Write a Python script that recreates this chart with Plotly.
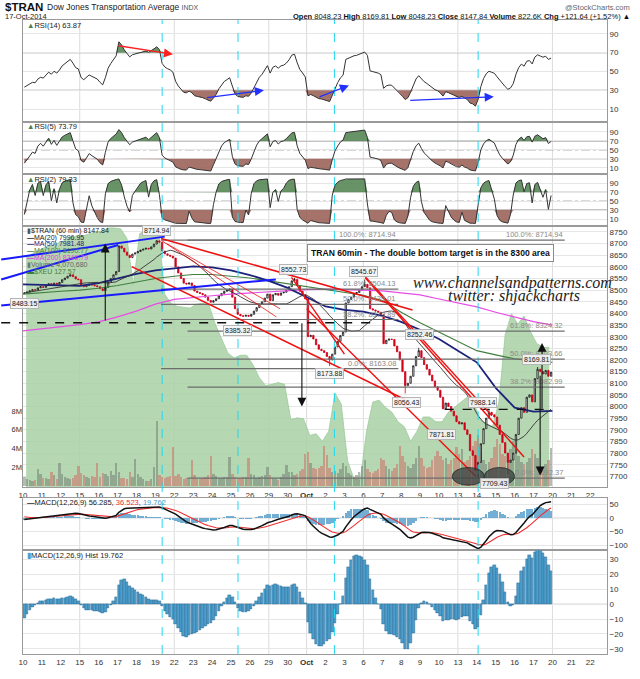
import numpy as np
import pandas as pd
import plotly.graph_objects as go

# ---------------- DATA ----------------
day_labels = ["10", "11", "12", "15", "16", "17", "18", "19", "22", "23", "24", "25", "26", "29", "30",
              "<b>Oct</b>", "2", "3", "6", "7", "8", "9", "10", "13", "14", "15", "16", "17", "20", "21", "22"]
week_starts = [3, 8, 13, 15, 18, 23, 28]
highlight_days = [7.36, 11.37, 16.47, 24.07]

first_open = 8486
closes_by_day = [
    [8488, 8492, 8497, 8502, 8500, 8510, 8515],  # Sep 10
    [8512, 8520, 8528, 8522, 8530, 8525, 8533],  # Sep 11
    [8545, 8552, 8560, 8566, 8558, 8548, 8545],  # Sep 12
    [8522, 8515, 8520, 8526, 8522, 8519, 8515],  # Sep 15
    [8506, 8498, 8512, 8535, 8550, 8566, 8580],  # Sep 16
    [8690, 8680, 8664, 8650, 8640, 8655, 8660],  # Sep 17
    [8666, 8672, 8676, 8680, 8677, 8686, 8698],  # Sep 18
    [8712, 8706, 8668, 8656, 8650, 8646, 8638],  # Sep 19
    [8600, 8574, 8550, 8530, 8526, 8531, 8520],  # Sep 22
    [8496, 8490, 8486, 8480, 8470, 8456, 8448],  # Sep 23
    [8455, 8463, 8476, 8486, 8495, 8500, 8505],  # Sep 24
    [8470, 8420, 8396, 8390, 8388, 8392, 8388],  # Sep 25
    [8396, 8410, 8425, 8440, 8450, 8466, 8483],  # Sep 26
    [8455, 8480, 8486, 8478, 8488, 8491, 8500],  # Sep 29
    [8515, 8540, 8546, 8520, 8495, 8480, 8462],  # Sep 30
    [8300, 8306, 8290, 8265, 8246, 8240, 8232],  # Oct 1
    [8215, 8200, 8225, 8256, 8280, 8305, 8320],  # Oct 2
    [8445, 8460, 8470, 8485, 8490, 8500, 8515],  # Oct 3
    [8525, 8510, 8420, 8415, 8410, 8405, 8395],  # Oct 6
    [8270, 8285, 8290, 8288, 8260, 8235, 8200],  # Oct 7
    [8150, 8090, 8100, 8130, 8175, 8215, 8240],  # Oct 8
    [8210, 8180, 8160, 8135, 8110, 8085, 8070],  # Oct 9
    [8040, 7990, 8015, 8000, 7980, 7960, 7935],  # Oct 10
    [7925, 7930, 7900, 7880, 7810, 7790, 7725],  # Oct 13
    [7760, 7840, 7905, 7950, 7975, 7965, 7955],  # Oct 14
    [7920, 7880, 7845, 7800, 7760, 7770, 7800],  # Oct 15
    [7880, 7950, 7995, 7975, 8040, 8050, 8020],  # Oct 16
    [8120, 8160, 8150, 8140, 8155, 8130, 8147.84],  # Oct 17
]
# labelled wick extremes (bar index, value)
wick_highs = [(49, 8714.94), (100, 8552.73), (126, 8545.67), (146, 8252.46), (172, 7988.14), (190, 8169.81)]
wick_lows = [(0, 8483.15), (81, 8385.32), (113, 8173.88), (141, 8056.43), (168, 7692.37), (179, 7709.43)]

volume_by_day = [  # millions
    [1.0, 0.8, 0.7, 0.6, 0.7, 1.8, 1.3],
    [0.9, 0.9, 0.8, 1.5, 1.2, 0.8, 2.5],
    [1.3, 1.0, 0.9, 0.8, 0.9, 1.2, 2.2],
    [1.4, 1.2, 1.0, 0.9, 1.1, 1.0, 2.5],
    [1.0, 1.4, 1.3, 1.1, 1.6, 1.2, 2.5],
    [1.5, 0.9, 0.9, 0.8, 1.5, 1.0, 2.9],
    [1.3, 1.0, 0.8, 0.6, 0.6, 0.8, 2.1],
    [7.0, 1.2, 1.0, 0.9, 1.0, 1.1, 4.2],
    [1.1, 1.3, 1.0, 0.8, 0.9, 0.9, 2.8],
    [1.2, 0.8, 0.8, 0.9, 1.0, 1.2, 3.2],
    [1.3, 1.1, 0.9, 0.9, 1.0, 1.0, 3.1],
    [1.3, 1.0, 0.9, 0.9, 1.0, 1.0, 3.0],
    [1.3, 1.2, 0.9, 1.0, 1.1, 1.2, 2.1],
    [1.2, 0.9, 0.8, 0.7, 1.0, 1.3, 2.3],
    [1.5, 1.5, 1.2, 1.3, 1.6, 1.8, 3.5],
    [3.7, 2.5, 2.0, 1.8, 2.0, 2.2, 4.3],
    [3.3, 2.0, 1.5, 1.6, 1.4, 1.8, 2.5],
    [2.2, 1.4, 1.2, 1.0, 1.2, 1.5, 2.2],
    [2.8, 1.8, 1.5, 1.4, 1.6, 1.8, 3.0],
    [2.8, 2.2, 1.8, 1.6, 2.0, 2.4, 4.3],
    [3.2, 2.6, 2.2, 2.0, 2.4, 3.0, 4.3],
    [3.0, 2.2, 2.0, 2.1, 2.8, 3.2, 3.8],
    [3.2, 2.8, 3.0, 2.4, 2.8, 3.0, 4.2],
    [3.5, 4.0, 2.6, 2.8, 3.2, 4.3, 4.8],
    [5.5, 3.5, 2.8, 2.4, 2.6, 3.0, 4.2],
    [5.0, 4.5, 3.5, 3.2, 3.6, 4.0, 4.8],
    [4.0, 3.2, 2.6, 2.4, 2.6, 3.0, 4.0],
    [3.5, 3.0, 2.2, 2.0, 2.4, 2.8, 4.07],
]

# moving averages read at each day boundary (day 0 .. 28)
ma50_daily = [8525, 8522, 8520, 8518, 8530, 8550, 8570, 8585, 8595, 8602, 8598, 8585, 8565, 8540, 8510,
              8470, 8430, 8415, 8408, 8390, 8364, 8330, 8290, 8240, 8190, 8080, 7995, 7978, 7981.48]
ma100_daily = [8483, 8490, 8495, 8500, 8508, 8520, 8535, 8550, 8560, 8567, 8567, 8560, 8552, 8540, 8528,
               8515, 8504, 8492, 8478, 8455, 8405, 8360, 8320, 8280, 8240, 8222, 8205, 8195, 8190]
ma200_daily = [8325, 8333, 8342, 8352, 8364, 8385, 8410, 8440, 8460, 8469, 8476, 8483, 8488, 8493, 8497,
               8502, 8504, 8503, 8500, 8497, 8490, 8480, 8462, 8445, 8428, 8405, 8385, 8365, 8350]

# $XEU overlay, three readings per day
xeu_by_day = [
    [129.61, 129.70, 129.77], [129.84, 129.88, 129.93], [129.99, 130.06, 130.10], [130.10, 130.15, 130.19],
    [130.21, 130.28, 130.28], [130.26, 130.04, 128.99], [130.15, 130.24, 130.28], [130.28, 128.77, 128.57],
    [128.50, 128.48, 128.46], [128.55, 128.57, 128.53], [128.10, 127.77, 127.44], [127.33, 127.39, 127.39],
    [127.17, 126.88, 126.70], [126.73, 126.77, 126.73], [125.93, 125.97, 125.95], [125.57, 125.61, 125.44],
    [125.66, 126.53, 126.28], [124.99, 124.59, 124.55], [125.66, 126.33, 126.37], [126.21, 126.10, 125.88],
    [125.77, 125.44, 125.66], [125.99, 125.99, 125.88], [125.88, 126.10, 126.21], [126.33, 126.44, 126.33],
    [125.93, 125.84, 125.77], [126.33, 127.86, 128.33], [128.10, 128.28, 127.93], [127.66, 127.57, 127.57],
]

# indicator state at the left edge of the chart
macd_start, signal_start = -7.0, 6.0

# ---------------- DERIVED ----------------
closes = np.array([c for day in closes_by_day for c in day], dtype=float)
n = len(closes)
xs = np.array([d + (k + 0.5) / 7 for d in range(len(closes_by_day)) for k in range(7)])
opens = np.concatenate([[first_open], closes[:-1]])
highs = np.maximum(opens, closes)
lows = np.minimum(opens, closes)
for i, v in wick_highs:
    highs[i] = max(highs[i], v)
for i, v in wick_lows:
    lows[i] = min(lows[i], v)
vols = np.array([v for day in volume_by_day for v in day])
xeu = np.array([v for day in xeu_by_day for v in day])
xeu_x = np.array([d + f for d in range(len(xeu_by_day)) for f in (1 / 6, 0.5, 5 / 6)])
ma_x = np.arange(len(ma50_daily))
ma20 = pd.Series(closes).rolling(20, min_periods=1).mean().values


def rsi(c, period, seed_gain, seed_loss):
    ag, al = seed_gain, seed_loss
    out = []
    prev = c[0]
    for i, v in enumerate(c):
        ch = 0 if i == 0 else v - prev
        prev = v
        ag = (ag * (period - 1) + max(ch, 0)) / period
        al = (al * (period - 1) + max(-ch, 0)) / period
        out.append(100 - 100 / (1 + ag / al) if al > 0 else 100)
    return np.array(out)


def ema(vals, span, start):
    a = 2 / (span + 1)
    out, e = [], start
    for v in vals:
        e = a * v + (1 - a) * e
        out.append(e)
    return np.array(out)


rsi14 = rsi(closes, 14, 5.0, 10.0)
rsi5 = rsi(closes, 5, 2.5, 10.0)
rsi2 = rsi(closes, 2, 2.5, 10.0)
ema12 = ema(closes, 12, closes[0] + macd_start)
ema26 = ema(closes, 26, closes[0])
macd = ema12 - ema26
signal = ema(macd, 9, signal_start)
hist = macd - signal

# ---------------- LAYOUT GEOMETRY ----------------
W, H = 640, 679
L, R, T, B = 22, 29, 20, 12
PW, PH = W - L - R, H - T - B
XMAX = PW / 19.07


def dom(ytop, ybot):
    return [(H - B - ybot) / PH, (H - B - ytop) / PH]


def pxp(x, y):
    return (x - L) / PW, (H - B - y) / PH


FONT = "Liberation Sans, Arial, sans-serif"
GRID = "#e6e6e6"
BORDER = "#9a9a9a"
fig = go.Figure()

# ---------------- RSI PANELS ----------------
GREEN_F = "rgba(76,128,76,0.85)"
BROWN_F = "rgba(150,90,80,0.85)"
for r_vals, ax in [(rsi14, "1"), (rsi5, "2"), (rsi2, "3")]:
    xa, ya = "x" + ("" if ax == "1" else ax), "y" + ("" if ax == "1" else ax)
    fig.add_trace(go.Scatter(x=xs, y=np.full(n, 70.0), mode="lines", line=dict(width=0), xaxis=xa, yaxis=ya, hoverinfo="skip"))
    fig.add_trace(go.Scatter(x=xs, y=np.maximum(r_vals, 70), mode="lines", line=dict(width=0), fill="tonexty",
                             fillcolor=GREEN_F, xaxis=xa, yaxis=ya, hoverinfo="skip"))
    fig.add_trace(go.Scatter(x=xs, y=np.full(n, 30.0), mode="lines", line=dict(width=0), xaxis=xa, yaxis=ya, hoverinfo="skip"))
    fig.add_trace(go.Scatter(x=xs, y=np.minimum(r_vals, 30), mode="lines", line=dict(width=0), fill="tonexty",
                             fillcolor=BROWN_F, xaxis=xa, yaxis=ya, hoverinfo="skip"))
    fig.add_trace(go.Scatter(x=xs, y=r_vals, mode="lines", line=dict(color="#333", width=1), xaxis=xa, yaxis=ya))

# ---------------- MAIN PANEL ----------------
fig.add_trace(go.Scatter(x=xeu_x, y=xeu, mode="lines", line=dict(color="rgba(150,200,150,0.9)", width=0.8),
                         fill="tozeroy", fillcolor="rgba(168,208,164,0.85)", xaxis="x4", yaxis="y4"))
vcolors = ["rgba(205,110,100,0.55)" if c < o else "rgba(110,120,110,0.5)" for o, c in zip(opens, closes)]
fig.add_trace(go.Bar(x=xs, y=vols, width=0.125, marker=dict(color=vcolors, line=dict(width=0)), xaxis="x4", yaxis="y7"))
fig.add_trace(go.Scatter(x=ma_x, y=ma200_daily, mode="lines", line=dict(color="#e64ce6", width=1.2), xaxis="x4", yaxis="y8"))
fig.add_trace(go.Scatter(x=ma_x, y=ma100_daily, mode="lines", line=dict(color="#3f7f3f", width=1.1), xaxis="x4", yaxis="y8"))
fig.add_trace(go.Scatter(x=ma_x, y=ma50_daily, mode="lines", line=dict(color="#1d237a", width=1.8), xaxis="x4", yaxis="y8"))
fig.add_trace(go.Scatter(x=xs, y=ma20, mode="lines", line=dict(color="#333", width=0.9), xaxis="x4", yaxis="y8"))
fig.add_trace(go.Candlestick(x=xs, open=opens, high=highs, low=lows, close=closes, xaxis="x4", yaxis="y8",
                             increasing=dict(line=dict(color="#111", width=0.8), fillcolor="white"),
                             decreasing=dict(line=dict(color="#d0021b", width=0.8), fillcolor="#d0021b"),
                             whiskerwidth=0))

# ---------------- MACD ----------------
fig.add_trace(go.Bar(x=xs, y=hist, width=0.13, marker=dict(color="rgba(90,160,205,0.85)", line=dict(width=0)),
                     xaxis="x5", yaxis="y5"))
fig.add_trace(go.Scatter(x=xs, y=signal, mode="lines", line=dict(color="#f03030", width=1.1), xaxis="x5", yaxis="y5"))
fig.add_trace(go.Scatter(x=xs, y=macd, mode="lines", line=dict(color="#111", width=1.5), xaxis="x5", yaxis="y5"))
fig.add_trace(go.Bar(x=xs, y=hist, width=0.13, marker=dict(color="#4b9dcc", line=dict(color="#2a6a95", width=0.5)),
                     xaxis="x6", yaxis="y6"))

# ---------------- AXES ----------------
tickfont = dict(family=FONT, size=8, color="#333")
xcommon = dict(range=[0, XMAX], showgrid=False, zeroline=False, showline=True, mirror=True, linecolor=BORDER,
               tickvals=list(range(31)), ticktext=day_labels, ticks="", tickfont=tickfont, fixedrange=True)
layout_axes = {}
for i, (yt, yb) in enumerate([(20, 124), (124, 177), (177, 230), (230, 497), (508, 561), (561, 667)], start=1):
    key = "xaxis" if i == 1 else f"xaxis{i}"
    layout_axes[key] = dict(xcommon, domain=[0, 1], anchor="y" if i == 1 else f"y{i}",
                            showticklabels=(i in (4, 6)))
ycommon = dict(side="right", showline=True, mirror=True, linecolor=BORDER, zeroline=False, gridcolor=GRID,
               tickfont=tickfont, ticks="", fixedrange=True)
layout_axes["yaxis"] = dict(ycommon, domain=dom(20, 124), range=[-3.6, 104.7], tickvals=[10, 30, 50, 70, 90])
layout_axes["yaxis2"] = dict(ycommon, domain=dom(124, 177), range=[-3.8, 112.6], tickvals=[10, 30, 50, 70, 90])
layout_axes["yaxis3"] = dict(ycommon, domain=dom(177, 230), range=[-5.2, 111.3], tickvals=[10, 30, 50, 70, 90])
layout_axes["yaxis4"] = dict(domain=dom(230, 497), range=[124.39, 130.33], visible=False, fixedrange=True)
layout_axes["yaxis7"] = dict(overlaying="y4", anchor="x4", side="left", range=[-0.13, 27.7], tickvals=[2, 4, 6, 8],
                             ticktext=["2M", "4M", "6M", "8M"], showgrid=False, zeroline=False, showline=False,
                             tickfont=dict(family=FONT, size=7.5, color="#333"), ticks="", fixedrange=True)
layout_axes["yaxis8"] = dict(ycommon, overlaying="y4", anchor="x4", range=[7652.4, 8776.6],
                             tickvals=list(range(7700, 8751, 50)))
layout_axes["yaxis5"] = dict(ycommon, domain=dom(508, 561), range=[-117.9, 71.4], tickvals=[-100, -50, 0, 50])
layout_axes["yaxis6"] = dict(ycommon, domain=dom(561, 667), range=[-33.5, 36.4], tickvals=[-30, -20, -10, 0, 10, 20, 30])

shapes = []
annotations = []

# vertical grid (Mondays / month start) and cyan highlight lines
for d in week_starts:
    for xa, ya in [("x", "y"), ("x2", "y2"), ("x3", "y3"), ("x4", "y4"), ("x5", "y5"), ("x6", "y6")]:
        shapes.append(dict(type="line", xref=xa, yref=ya + " domain", x0=d, x1=d, y0=0, y1=1,
                           line=dict(color="#dcdcdc", width=1), layer="below"))
for d in highlight_days:
    shapes.append(dict(type="line", xref="x4", yref="paper", x0=d, x1=d, y0=0, y1=1,
                       line=dict(color="#22d8ee", width=1, dash="dash")))

# RSI reference lines
for ya in ["y", "y2", "y3"]:
    for v, dash in [(70, "solid"), (30, "solid"), (50, "dashdot")]:
        shapes.append(dict(type="line", xref="x domain", yref=ya, x0=0, x1=1, y0=v, y1=v,
                           line=dict(color="#8a8a8a", width=1.2 if dash == "solid" else 1, dash=dash), layer="below"))
# MACD zero lines
shapes.append(dict(type="line", xref="x domain", yref="y5", x0=0, x1=1, y0=0, y1=0, line=dict(color="#bbb", width=1), layer="below"))
shapes.append(dict(type="line", xref="x domain", yref="y6", x0=0, x1=1, y0=0, y1=0, line=dict(color="#bbb", width=1), layer="below"))

# Fibonacci levels
fib1 = [("100.0%", 8714.94), ("61.8%", 8504.13), ("50.0%", 8439.01), ("38.2%", 8373.89), ("0.0%", 8163.08)]
fib2 = [("100.0%", 8714.94), ("61.8%", 8324.32), ("50.0%", 8203.66), ("38.2%", 8082.99), ("0.0%", 7692.37)]
for (lab, v), x0, x1 in [(f, 7.3, 19.85) for f in fib1] + [(f, 8.7, 28.65) for f in fib2]:
    shapes.append(dict(type="line", xref="x4", yref="y8", x0=x0, x1=x1, y0=v, y1=v, line=dict(color="#6e6e6e", width=1.2)))
    annotations.append(dict(xref="x4", yref="y8", x=x1, y=v, text=f"{lab}: {v:.2f}", showarrow=False,
                            xanchor="right", yanchor="bottom", yshift=-1, font=dict(family=FONT, size=7.5, color="#8a8a8a")))

# dashed horizontal lines
shapes.append(dict(type="line", xref="paper", yref="y8", x0=-L / PW, x1=18.8 / XMAX, y0=8360, y1=8360,
                   line=dict(color="#111", width=1.3, dash="dash")))
shapes.append(dict(type="line", xref="x4", yref="y8", x0=22.3, x1=27.8, y0=7988, y1=7988,
                   line=dict(color="#111", width=1.3, dash="dash")))

# red trend lines
red_lines = [((7.3, 8722), (20.6, 8415), 1.6), ((5.75, 8601), (20.2, 8030), 1.6),
             ((7.35, 8712), (13.4, 8385), 0.8), ((7.6, 8700), (13.6, 8420), 0.8),
             ((14.2, 8555), (17.0, 8225), 1.4), ((15.0, 8420), (23.95, 7700), 1.4),
             ((18.1, 8553), (26.5, 7783), 1.4), ((17.8, 8585), (24.8, 7960), 1.4)]
for (a, b, w) in red_lines:
    shapes.append(dict(type="line", xref="x4", yref="y8", x0=a[0], y0=a[1], x1=b[0], y1=b[1],
                       line=dict(color="#ee1111", width=w)))
# blue trend lines (start left of the plot)
blue_lines = [((-L / PW), 8632, (165 - L) / PW, 8730), ((-L / PW), 8546, (118 - L) / PW, 8694),
              ((-L / PW), 8434, (277 - L) / PW, 8546)]
for x0, y0, x1, y1 in blue_lines:
    shapes.append(dict(type="line", xref="paper", yref="y8", x0=x0, y0=y0, x1=x1, y1=y1, line=dict(color="#1a1aff", width=2)))

# ellipses at the double bottom
for x0, x1 in [(22.7, 24.4), (24.4, 26.0)]:
    shapes.append(dict(type="circle", xref="x4", yref="y8", x0=x0, x1=x1, y0=7662, y1=7738,
                       fillcolor="rgba(55,65,65,0.75)", line=dict(color="rgba(40,40,40,0.8)", width=1)))

# black arrows in price panel
for d, p0, p1 in [(4.35, 8363, 8700), (14.75, 8364, 8000), (27.45, 7985, 8273), (27.35, 8139, 7704)]:
    annotations.append(dict(xref="x4", yref="y8", axref="x4", ayref="y8", x=d, y=p1, ax=d, ay=p0, text="",
                            showarrow=True, arrowhead=2, arrowsize=1.6, arrowwidth=1.1, arrowcolor="#111"))

# RSI arrows
for (a, b, col) in [((4.97, 77.6), (7.93, 68.2), "#ff2020"), ((9.65, 22.1), (12.74, 30.0), "#2030ff"),
                    ((15.6, 22.4), (17.24, 35.2), "#2030ff"), ((20.4, 19.3), (24.9, 23.1), "#2030ff")]:
    annotations.append(dict(xref="x", yref="y", axref="x", ayref="y", x=b[0], y=b[1], ax=a[0], ay=a[1], text="",
                            showarrow=True, arrowhead=2, arrowsize=1.4, arrowwidth=1.3, arrowcolor=col))

# price labels with boxes
price_labels = [("8714.94", 7.08, 8755), ("8483.15", 0.1, 8444), ("8552.73", 14.3, 8587), ("8385.32", 11.33, 8327),
                ("8545.67", 17.99, 8579), ("8252.46", 20.95, 8309), ("8173.88", 16.23, 8141),
                ("8056.43", 20.27, 8019), ("7871.81", 22.13, 7880), ("7988.14", 24.28, 8019),
                ("7709.43", 24.96, 7669), ("8169.81", 27.16, 8200)]
for t, d, p in price_labels:
    annotations.append(dict(xref="x4", yref="y8", x=d, y=p, text=t, showarrow=False, xanchor="center", yanchor="middle",
                            font=dict(family=FONT, size=7, color="#222"), bgcolor="rgba(245,245,245,0.9)",
                            bordercolor="#b5b5b5", borderwidth=1, borderpad=1))

# title box and watermark
x, y = pxp(432.5, 257.5)
annotations.append(dict(xref="paper", yref="paper", x=x, y=y, xanchor="center", yanchor="middle",
                        text="<b>TRAN 60min - The double bottom target is in the 8300 area</b>",
                        showarrow=False, font=dict(family=FONT, size=8.6, color="#111"), bgcolor="white",
                        bordercolor="#8a8a8a", borderwidth=1, borderpad=3))
x, y = pxp(516, 288)
annotations.append(dict(xref="paper", yref="paper", x=x, y=y, xanchor="center", yanchor="middle",
                        text="<i>www.channelsandpatterns.com</i>", showarrow=False,
                        font=dict(family="Liberation Serif, serif", size=16, color="#222")))
x, y = pxp(517, 302)
annotations.append(dict(xref="paper", yref="paper", x=x, y=y, xanchor="center", yanchor="middle",
                        text="<i>twitter: shjackcharts</i>", showarrow=False,
                        font=dict(family="Liberation Serif, serif", size=16, color="#222")))

# legends inside panels


def left_text(xp, yp, text, size=7, color="#222"):
    x, y = pxp(xp, yp)
    annotations.append(dict(xref="paper", yref="paper", x=x, y=y, text=text, showarrow=False, xanchor="left",
                            yanchor="middle", font=dict(family=FONT, size=size, color=color)))


left_text(24, 26, "<span style='color:#4c7f4c'>▲</span>RSI(14) 63.87", size=7.5)
left_text(24, 129, "<span style='color:#4c7f4c'>▲</span>RSI(5) 73.79", size=7.5)
left_text(24, 183, "<span style='color:#4c7f4c'>▲</span>RSI(2) 79.33", size=7.5)
left_text(24, 235, "<span style='color:#555'>▮</span>$TRAN (60 min) 8147.84")
left_text(24, 242, "<b>—</b>MA(20) 7996.95", color="#222")
left_text(24, 249, "<b>—</b>MA(50) 7981.48", color="#1d237a")
left_text(24, 256, "<b>—</b>MA(100) 8190.77", color="#3f7f3f")
left_text(24, 263, "<b>—</b>MA(200) 8346.79", color="#e040e0")
left_text(24, 270, "<span style='color:#777'>▮</span>Volume 4,070,680", color="#666")
left_text(24, 277, "<b>▬</b>$XEU 127.57", color="#3f7f3f")
left_text(24, 512, "<b>—</b>MACD(12,26,9) 56.285, <span style='color:#f03030'>36.523</span>, <span style='color:#4b9dcc'>19.762</span>", size=7.5)
left_text(24, 566, "<span style='color:#4b9dcc'>▮</span>MACD(12,26,9) Hist 19.762", size=7.5)

# header
left_text(2, 7, "<b>$TRAN</b>", size=11.5, color="#111")
left_text(44, 7, "Dow Jones Transportation Average <span style='font-size:7px;color:#555'>INDX</span>", size=8.5)
left_text(2, 16.5, "17-Oct-2014", size=7.5)
x, y = pxp(636, 7)
annotations.append(dict(xref="paper", yref="paper", x=x, y=y, text="@StockCharts.com", showarrow=False,
                        xanchor="right", yanchor="middle", font=dict(family=FONT, size=7.5, color="#666")))
x, y = pxp(636, 16.5)
annotations.append(dict(xref="paper", yref="paper", x=x, y=y, xanchor="right", yanchor="middle",
                        text="<b>Open</b> 8048.23 <b>High</b> 8169.81 <b>Low</b> 8048.23 <b>Close</b> 8147.84 "
                             "<b>Volume</b> 822.6K <b>Chg</b> +121.64 (+1.52%) ▲",
                        showarrow=False, font=dict(family=FONT, size=7.5, color="#111")))

fig.update_layout(width=W, height=H, margin=dict(l=L, r=R, t=T, b=B), plot_bgcolor="white", paper_bgcolor="white",
                  showlegend=False, bargap=0, shapes=shapes, annotations=annotations, **layout_axes)
fig.update_xaxes(rangeslider_visible=False)
fig.write_html("out.html")
